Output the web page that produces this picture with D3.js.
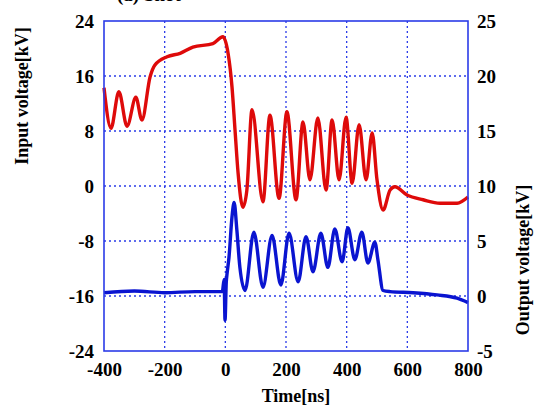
<!DOCTYPE html>
<html>
<head>
<meta charset="utf-8">
<script src="https://cdn.jsdelivr.net/npm/d3@7"></script>
<style>
  html, body { margin: 0; padding: 0; background: #fff; }
  svg { display: block; }
  text { font-family: "Liberation Serif", "DejaVu Serif", serif; font-weight: bold; fill: #000; }
</style>
</head>
<body>
<svg id="chart" width="538" height="409"></svg>
<script>
// tick values for the three axes
var timeTicks = [-400, -200, 0, 200, 400, 600, 800];
var inputTicks = [-24, -16, -8, 0, 8, 16, 24];
var outputTicks = [-5, 0, 5, 10, 15, 20, 25];

// input voltage [kV], as [time ns, kV]
var inputVoltage = [
  [-400, 14.3], [-377, 8.4], [-351, 13.7], [-324, 8.7], [-295, 12.9], [-275, 9.6],
  [-248, 15.9], [-232, 17.6], [-192, 18.8], [-149, 19.3], [-107, 20.2], [-41, 20.7],
  [-8, 21.7], [9, 19.3], [22, 14.4], [32, 8.1], [42, 1.9], [58, -3.1], [71, -0.6],
  [88, 11.1], [124, -2.3], [147, 10.3], [177, -1.8], [203, 10.8], [233, -2.0],
  [256, 9.3], [279, 0.9], [305, 9.9], [332, -0.6], [352, 9.6], [375, 0.9], [398, 10],
  [418, 0.4], [441, 8.9], [464, 0.9], [484, 7.7], [500, 0.9], [520, -3.5], [543, -0.6],
  [559, -0.1], [599, -1.3], [652, -2.0], [708, -2.5], [764, -2.5], [800, -1.6]
];

// output voltage [kV], as [time ns, kV]
var outputVoltage = [
  [-400, 0.3], [-300, 0.45], [-200, 0.3], [-100, 0.4], [-10, 0.4], [-4, 1.5], [-1, -2.2],
  [3, 1.2], [6, 2.1], [12, 3.5], [22, 7.2], [29, 8.5], [38, 6.0], [48, 2.6], [65, 0.5],
  [94, 5.8], [124, 0.8], [154, 5.5], [183, 1.0], [210, 5.7], [240, 1.3], [266, 5.4],
  [289, 2.2], [315, 5.7], [338, 2.6], [361, 6.1], [385, 3.1], [404, 6.2], [427, 3.3],
  [450, 5.8], [470, 3.0], [493, 4.9], [503, 3.3], [520, 0.5], [543, 0.4], [619, 0.3],
  [698, 0.1], [764, -0.2], [800, -0.6]
];

var svg = d3.select('#chart');
var plot = {left: 104, right: 468, top: 21, bottom: 351};
var serif = 'Liberation Serif, DejaVu Serif, serif';

var x = d3.scaleLinear().domain([-400, 800]).range([plot.left, plot.right]);
var yIn = d3.scaleLinear().domain([-24, 24]).range([plot.bottom, plot.top]);
var yOut = d3.scaleLinear().domain([-5, 25]).range([plot.bottom, plot.top]);

var gridColor = '#2b3be8';

// dotted grid
var grid = svg.append('g').attr('class', 'grid');
grid.selectAll('line.vx')
  .data(timeTicks.slice(1, -1))
  .enter().append('line')
  .attr('x1', function(d) { return x(d); })
  .attr('x2', function(d) { return x(d); })
  .attr('y1', plot.top).attr('y2', plot.bottom);
grid.selectAll('line.hy')
  .data(inputTicks.slice(1, -1))
  .enter().append('line')
  .attr('y1', function(d) { return yIn(d); })
  .attr('y2', function(d) { return yIn(d); })
  .attr('x1', plot.left).attr('x2', plot.right);
grid.selectAll('line')
  .attr('stroke', gridColor)
  .attr('stroke-width', 1.3)
  .attr('stroke-dasharray', '2,3');

// traces
var lineIn = d3.line()
  .x(function(d) { return x(d[0]); })
  .y(function(d) { return yIn(d[1]); })
  .curve(d3.curveMonotoneX);
var lineOut = d3.line()
  .x(function(d) { return x(d[0]); })
  .y(function(d) { return yOut(d[1]); })
  .curve(d3.curveMonotoneX);

svg.append('path')
  .datum(inputVoltage)
  .attr('d', lineIn)
  .attr('fill', 'none')
  .attr('stroke', '#de0a0a')
  .attr('stroke-width', 3.4)
  .attr('stroke-linejoin', 'round');

svg.append('path')
  .datum(outputVoltage)
  .attr('d', lineOut)
  .attr('fill', 'none')
  .attr('stroke', '#0a14d0')
  .attr('stroke-width', 3.4)
  .attr('stroke-linejoin', 'round');

// frame
svg.append('rect')
  .attr('x', plot.left).attr('y', plot.top)
  .attr('width', plot.right - plot.left)
  .attr('height', plot.bottom - plot.top)
  .attr('fill', 'none')
  .attr('stroke', gridColor)
  .attr('stroke-width', 1.6);

// axes: labels only, the frame and grid are drawn above
// plain hyphen for negatives, like the source figure
var fmt = function(d) { return String(d); };

function strip(g) {
  g.attr('font-family', serif).attr('font-size', 19).attr('font-weight', 'bold');
  g.select('.domain').remove();
  g.selectAll('.tick line').remove();
}

svg.append('g')
  .attr('transform', 'translate(0,' + plot.bottom + ')')
  .call(d3.axisBottom(x).tickValues(timeTicks).tickFormat(fmt).tickSize(0).tickPadding(12))
  .call(strip);

svg.append('g')
  .attr('transform', 'translate(' + plot.left + ',0)')
  .call(d3.axisLeft(yIn).tickValues(inputTicks).tickFormat(fmt).tickSize(0).tickPadding(10))
  .call(strip);

svg.append('g')
  .attr('transform', 'translate(' + plot.right + ',0)')
  .call(d3.axisRight(yOut).tickValues(outputTicks).tickFormat(fmt).tickSize(0).tickPadding(9))
  .call(strip);

// axis titles
svg.append('text')
  .attr('x', 296).attr('y', 402)
  .attr('text-anchor', 'middle')
  .style('font-size', '18px')
  .text('Time[ns]');

svg.append('text')
  .attr('transform', 'translate(28,96) rotate(-90)')
  .attr('text-anchor', 'middle')
  .style('font-size', '18px')
  .text('Input voltage[kV]');

svg.append('text')
  .attr('transform', 'translate(529,260) rotate(-90)')
  .attr('text-anchor', 'middle')
  .style('font-size', '18px')
  .text('Output voltage[kV]');

// panel caption, cut off at the top edge as in the source figure
svg.append('text')
  .attr('x', 117).attr('y', 1)
  .style('font-size', '19px')
  .text('(a) Shot');
</script>
</body>
</html>
